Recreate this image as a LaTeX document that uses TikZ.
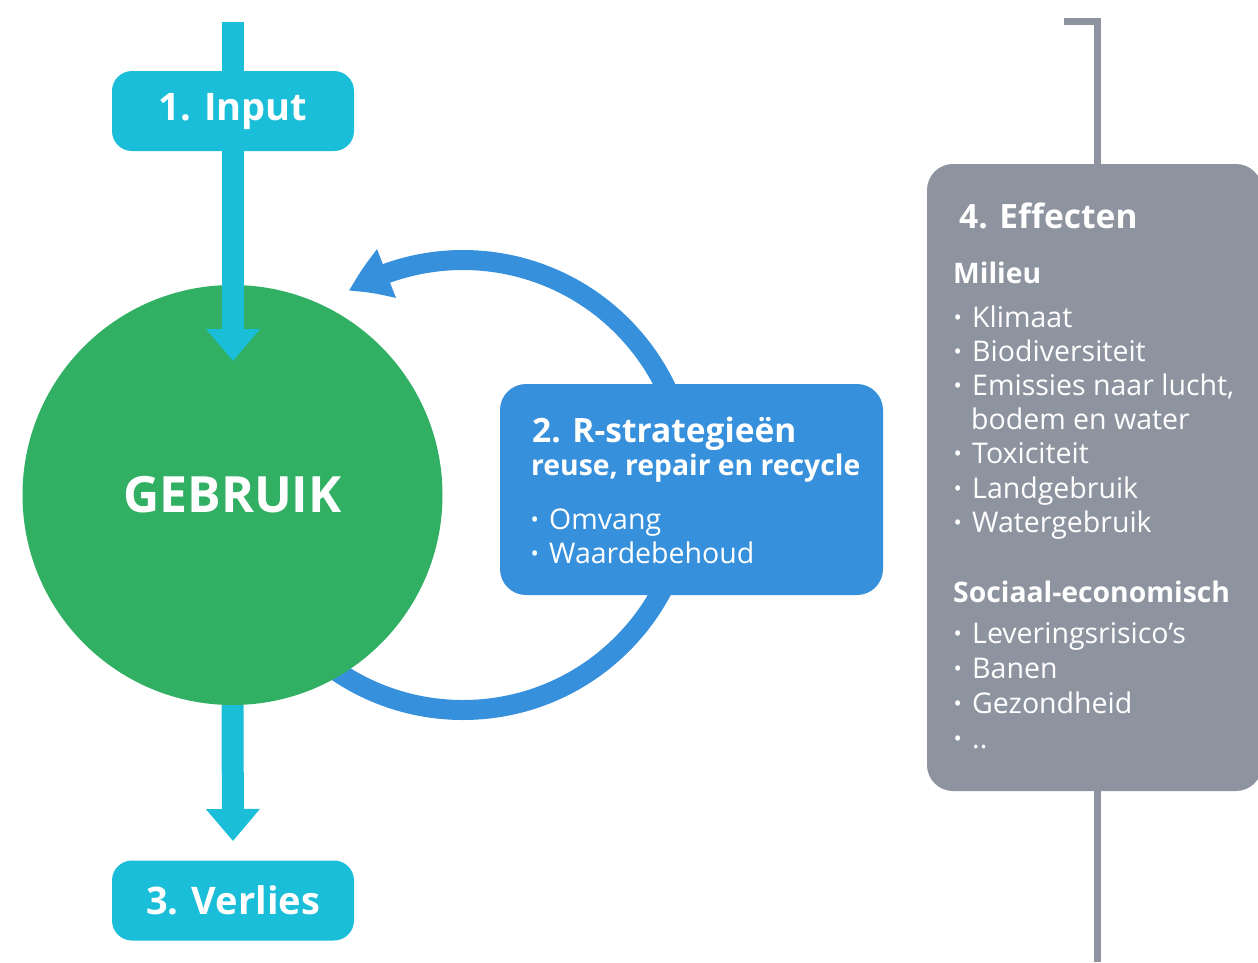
\documentclass[tikz,border=0pt]{standalone}
\usepackage{fontspec}
\setmainfont{Open Sans}
\usetikzlibrary{arrows.meta,bending}
\definecolor{cyanC}{RGB}{26,190,216}
\definecolor{greenC}{RGB}{49,176,100}
\definecolor{blueC}{RGB}{55,144,219}
\definecolor{grayC}{RGB}{142,148,159}
\newcommand{\bul}{\makebox[19pt][l]{\hspace{0.5pt}{\fontsize{22}{22}\selectfont\raisebox{0.15ex}{•}}}}
\tikzset{
  cbox/.style={fill=cyanC, rounded corners=20pt, minimum width=242pt, minimum height=80pt, text=white, font=\bfseries\fontsize{38}{40}\selectfont, inner sep=0pt},
  cflow/.style={draw=cyanC, line width=22pt, -{Triangle[length=32pt,width=52pt]}},
  bigtitle/.style={anchor=base west, text=white, inner sep=0pt, font=\bfseries\fontsize{33.5}{36}\selectfont},
  subtitle/.style={anchor=base west, text=white, inner sep=0pt, font=\bfseries\fontsize{28.3}{30}\selectfont},
  item/.style={anchor=base west, text=white, inner sep=0pt, font=\fontsize{28.5}{30}\selectfont},
}
\begin{document}
\begin{tikzpicture}[x=1pt,y=-1pt]
\useasboundingbox (0,0) rectangle (1258,962);
% bracket
\coordinate (brA) at (1064,21.5);
\coordinate (brB) at (1097,962);
\draw[grayC, line width=7pt] (brA) -| (brB);
% gray box
\fill[grayC, rounded corners=26pt] (927,164) rectangle (1262,791);
% loop arc
\coordinate (rc) at (463,485);
\draw[blueC, line width=20pt, -{Triangle[length=42pt,width=49pt,bend]}] ([shift={(135:225)}]rc) arc[start angle=135, end angle=-120.5, radius=225];
% circle
\node[circle, fill=greenC, minimum size=420pt, inner sep=0pt, text=white, font=\bfseries\fontsize{50}{52}\selectfont] (use) at (232.5,495) {GEBRUIK};
% cyan flows
\coordinate (top) at (233,22);
\coordinate (inTip) at (233,361);
\coordinate (outTip) at (233,841);
\draw[cflow] (top) -- (inTip);
\draw[cflow] (use.south) -- (outTip);
\node[cbox] (input) at (233,111) {1. Input};
\node[cbox] (loss) at (233,900.5) {3. Verlies};
% R box
\fill[blueC, rounded corners=26pt] (500,384) rectangle (883,595);
\node[bigtitle] (r1) at (532,442) {2. R-strategieën};
\node[subtitle] (r2) at (531,475) {reuse, repair en recycle};
\node[item] (r3) at (530,529) {\bul Omvang};
\node[item] (r4) at (530,563) {\bul Waardebehoud};
% effects
\node[bigtitle] (e0) at (959,228) {4. Effecten};
\node[subtitle] (e1) at (953,283) {Milieu};
\node[item] (e2) at (953,327) {\bul Klimaat};
\node[item] (e3) at (953,361) {\bul Biodiversiteit};
\node[item] (e4) at (953,395) {\bul Emissies naar lucht,};
\node[item] (e5) at (971,429) {bodem en water};
\node[item] (e6) at (953,463) {\bul Toxiciteit};
\node[item] (e7) at (953,498) {\bul Landgebruik};
\node[item] (e8) at (953,532) {\bul Watergebruik};
\node[subtitle] (s1) at (953,602) {Sociaal-economisch};
\node[item] (s2) at (953,643) {\bul Leveringsrisico’s};
\node[item] (s3) at (953,678) {\bul Banen};
\node[item] (s4) at (953,713) {\bul Gezondheid};
\node[item] (s5) at (953,748) {\bul ..};
\end{tikzpicture}
\end{document}
